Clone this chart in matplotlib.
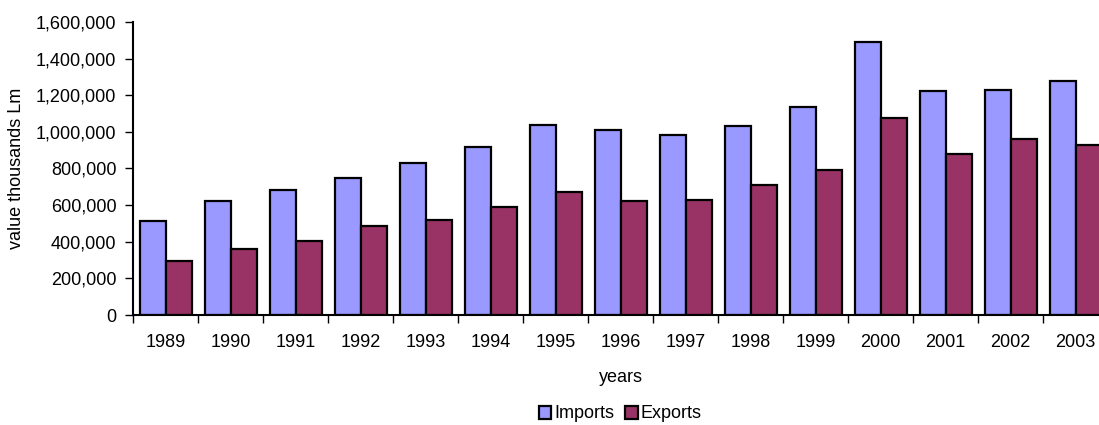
import matplotlib
matplotlib.use("Agg")
from matplotlib import pyplot as plt
from matplotlib.ticker import FuncFormatter
import numpy as np

plt.rcParams['font.family'] = ['Liberation Sans', 'DejaVu Sans']

years = ["1989", "1990", "1991", "1992", "1993", "1994", "1995", "1996",
         "1997", "1998", "1999", "2000", "2001", "2002", "2003"]
imports = [515000, 621000, 683000, 747000, 830000, 919000, 1038000, 1009000,
           985000, 1034000, 1136000, 1493000, 1225000, 1227000, 1280000]
exports = [293000, 359000, 406000, 488000, 517000, 591000, 673000, 624000,
           628000, 712000, 790000, 1074000, 881000, 961000, 927000]

W, H = 1099, 425
fig = plt.figure(figsize=(W / 100, H / 100), dpi=100)
# axes runs a little past the right edge, like the original export
ax = fig.add_axes([133 / W, 110 / H, 975 / W, 293 / H])

x = np.arange(len(years))
bw = 0.4
ax.bar(x - bw / 2, imports, bw, color="#9999FF", edgecolor="black",
       linewidth=1.6, label="Imports")
ax.bar(x + bw / 2, exports, bw, color="#993366", edgecolor="black",
       linewidth=1.6, label="Exports")

ax.set_xlim(-0.5, len(years) - 0.5)
ax.set_ylim(0, 1600000)
ax.set_yticks(np.arange(0, 1600001, 200000))
ax.yaxis.set_major_formatter(FuncFormatter(lambda v, p: f"{int(v):,}"))

# ticks between groups, labels under the group centres
ax.set_xticks(np.arange(-0.5, len(years), 1.0))
ax.set_xticklabels([])
ax.set_xticks(x, minor=True)
ax.set_xticklabels(years, minor=True)
ax.tick_params(axis="x", which="major", length=6, width=1, direction="out")
ax.tick_params(axis="x", which="minor", length=0, pad=14, labelsize=13)
ax.tick_params(axis="y", length=6, width=1, pad=6, labelsize=13)

for s in ["top", "right"]:
    ax.spines[s].set_visible(False)
ax.spines["left"].set_linewidth(1.5)
ax.spines["bottom"].set_linewidth(1.5)

ax.set_ylabel("value thousands Lm", fontsize=13, labelpad=8)
ax.set_xlabel("years", fontsize=13, labelpad=13)

fig.legend(loc="center", bbox_to_anchor=(620 / W, 11 / H), ncol=2, frameon=False,
           fontsize=13, handlelength=0.7, handleheight=0.7, handletextpad=0.15,
           columnspacing=0.6, borderaxespad=0)

fig.savefig("out.png", dpi=100)
